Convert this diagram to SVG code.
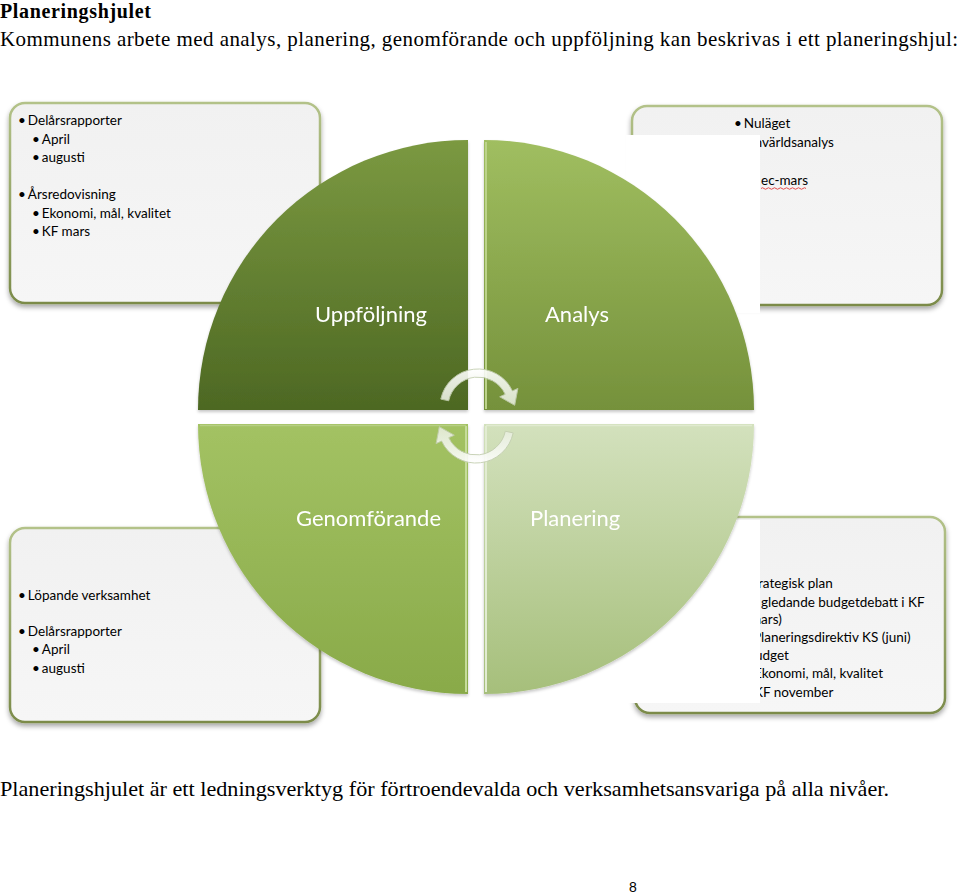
<svg xmlns="http://www.w3.org/2000/svg" width="960" height="894" viewBox="0 0 960 894">
<style>
.serif{font-family:"Liberation Serif","Times New Roman",serif;fill:#000}
.bx{font-family:Lato,"Open Sans","Liberation Sans",sans-serif;font-size:13.5px;fill:#000}
.lbl{font-family:Lato,"Open Sans","Liberation Sans",sans-serif;font-size:22px;fill:#fff}
.box{fill:url(#boxFill);stroke:url(#boxStroke);stroke-width:2.5;filter:url(#shadow)}
.cover{fill:#fff}
.arrow{fill:url(#arrowFill);stroke:#c3ceb0;stroke-width:1;opacity:0.9}
</style>
<defs>
<linearGradient id="boxFill" x1="0" y1="0" x2="0" y2="1"><stop offset="0" stop-color="#f1f1f1"/><stop offset="1" stop-color="#f6f6f6"/></linearGradient>
<linearGradient id="boxStroke" x1="0" y1="0" x2="0" y2="1"><stop offset="0" stop-color="#b3c289"/><stop offset="1" stop-color="#7b8b4a"/></linearGradient>
<linearGradient id="gTL" x1="0" y1="0" x2="0" y2="1"><stop offset="0" stop-color="#7b9941"/><stop offset="1" stop-color="#4d6823"/></linearGradient>
<linearGradient id="gTR" x1="0" y1="0" x2="0" y2="1"><stop offset="0" stop-color="#a0be60"/><stop offset="1" stop-color="#75913b"/></linearGradient>
<linearGradient id="gBL" x1="0" y1="0" x2="0" y2="1"><stop offset="0" stop-color="#a3c263"/><stop offset="1" stop-color="#89aa49"/></linearGradient>
<linearGradient id="gBR" x1="0" y1="0" x2="0" y2="1"><stop offset="0" stop-color="#d3e1bd"/><stop offset="1" stop-color="#a6bf7b"/></linearGradient>
<linearGradient id="arrowFill" x1="0" y1="0" x2="0" y2="1"><stop offset="0" stop-color="#ffffff"/><stop offset="1" stop-color="#e4ebd8"/></linearGradient>
<filter id="shadow" x="-5%" y="-5%" width="110%" height="115%"><feDropShadow dx="0" dy="3" stdDeviation="2.5" flood-color="#000" flood-opacity="0.35"/></filter>
<filter id="qshadow" x="-5%" y="-5%" width="110%" height="110%"><feDropShadow dx="0" dy="2" stdDeviation="1.5" flood-color="#000" flood-opacity="0.22"/></filter>
<clipPath id="clipR"><rect x="760" y="100" width="190" height="620"/></clipPath>
</defs>
<rect width="960" height="894" fill="#fff"/>

<g id="title">
<text class="serif" x="0" y="18" font-size="20" font-weight="bold" textLength="151">Planeringshjulet</text>
<text class="serif" x="0" y="46" font-size="21" textLength="958">Kommunens arbete med analys, planering, genomförande och uppföljning kan beskrivas i ett planeringshjul:</text>
</g>

<g id="box-uppfoljning">
<rect class="box" x="10" y="103" width="310" height="200" rx="15"/>
<text class="bx" x="18" y="125">•<tspan dx="2">Delårsrapporter</tspan></text>
<text class="bx" x="32" y="144">•<tspan dx="2">April</tspan></text>
<text class="bx" x="32" y="162">•<tspan dx="2">augusti</tspan></text>
<text class="bx" x="18" y="199">•<tspan dx="2">Årsredovisning</tspan></text>
<text class="bx" x="32" y="218">•<tspan dx="2">Ekonomi, mål, kvalitet</tspan></text>
<text class="bx" x="32" y="236">•<tspan dx="2">KF mars</tspan></text>
</g>

<g id="box-analys">
<rect class="box" x="632" y="106" width="310" height="199" rx="15"/>
<text class="bx" x="734" y="128">•<tspan dx="2">Nuläget</tspan></text>
<rect class="cover" x="626" y="135" width="134" height="178"/>
<g clip-path="url(#clipR)">
<text class="bx" x="751" y="147">mvärldsanalys</text>
<text class="bx" x="761" y="185">ec-mars</text>
<path d="M761,188.5 q1.5,-1.5 3,0 t3,0 t3,0 t3,0 t3,0 t3,0 t3,0 t3,0 t3,0 t3,0 t3,0 t3,0 t3,0 t3,0 t3,0" fill="none" stroke="#e23a3a" stroke-width="0.9"/>
</g>
</g>

<g id="box-genomforande">
<rect class="box" x="10" y="528" width="310" height="194" rx="15"/>
<text class="bx" x="18" y="600">•<tspan dx="2">Löpande verksamhet</tspan></text>
<text class="bx" x="18" y="636">•<tspan dx="2">Delårsrapporter</tspan></text>
<text class="bx" x="32" y="654">•<tspan dx="2">April</tspan></text>
<text class="bx" x="32" y="673">•<tspan dx="2">augusti</tspan></text>
</g>

<g id="box-planering">
<rect class="box" x="635" y="517" width="310" height="196" rx="15"/>
<rect class="cover" x="628" y="520" width="132" height="183"/>
<g clip-path="url(#clipR)">
<text class="bx" x="758" y="588">rategisk plan</text>
<text class="bx" x="761" y="607">gledande budgetdebatt i KF</text>
<text class="bx" x="750" y="624">mars)</text>
<text class="bx" x="753" y="642">Planeringsdirektiv KS (juni)</text>
<text class="bx" x="755" y="660">udget</text>
<text class="bx" x="754" y="678">Ekonomi, mål, kvalitet</text>
<text class="bx" x="754" y="697">KF november</text>
</g>
</g>

<g id="q-uppfoljning" filter="url(#qshadow)">
<path d="M468,410 L198,410 A270,270 0 0 1 468,140 Z" fill="url(#gTL)"/>
<text class="lbl" x="315" y="322">Uppföljning</text>
</g>
<g id="q-analys" filter="url(#qshadow)">
<path d="M484,410 L484,140 A270,270 0 0 1 754,410 Z" fill="url(#gTR)"/>
<line x1="486" y1="142" x2="486" y2="409" stroke="#bcd38a" stroke-width="2"/>
<text class="lbl" x="545" y="322">Analys</text>
</g>
<g id="q-genomforande" filter="url(#qshadow)">
<path d="M468,424 L468,694 A270,270 0 0 1 198,424 Z" fill="url(#gBL)"/>
<line x1="466" y1="426" x2="466" y2="692" stroke="#c6dc9a" stroke-width="2"/>
<line x1="200" y1="425.5" x2="466" y2="425.5" stroke="#b6cf84" stroke-width="1.5"/>
<text class="lbl" x="296" y="526">Genomförande</text>
</g>
<g id="q-planering" filter="url(#qshadow)">
<path d="M484,424 L754,424 A270,270 0 0 1 484,694 Z" fill="url(#gBR)"/>
<line x1="486" y1="426" x2="486" y2="692" stroke="#e2ecd2" stroke-width="2"/>
<line x1="486" y1="425.5" x2="752" y2="425.5" stroke="#e0ead0" stroke-width="1.5"/>
<text class="lbl" x="530" y="526">Planering</text>
</g>

<g id="connectors">
<path class="arrow" d="M440.8,399.1 A38,38 0 0 1 512.4,390.9 L517.9,388.4 L514.7,405.3 L499.7,396.8 L505.2,394.3 A30,30 0 0 0 448.7,400.8 Z"/>
<path class="arrow" transform="rotate(180 477 416)" d="M440.8,399.1 A38,38 0 0 1 512.4,390.9 L517.9,388.4 L514.7,405.3 L499.7,396.8 L505.2,394.3 A30,30 0 0 0 448.7,400.8 Z"/>
</g>

<g id="footer">
<text class="serif" x="0" y="796" font-size="21" textLength="889" lengthAdjust="spacingAndGlyphs">Planeringshjulet är ett ledningsverktyg för förtroendevalda och verksamhetsansvariga på alla nivåer.</text>
<text x="629" y="892" font-family="Liberation Sans,Arial,sans-serif" font-size="14" fill="#000">8</text>
</g>
</svg>
